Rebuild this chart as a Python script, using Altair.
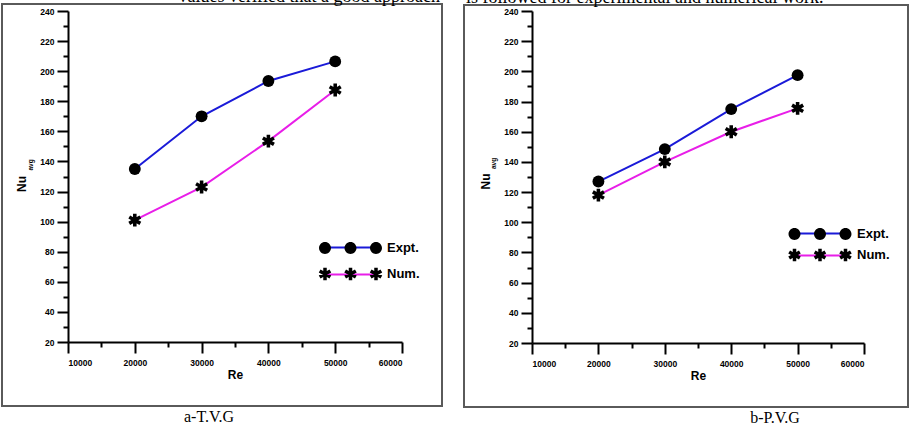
import math
import altair as alt
import pandas as pd

# ---------------- data ----------------
re_values = [20000, 30000, 40000, 50000]
tvg_expt = [135, 170, 193.5, 206.5]
tvg_num = [101, 123, 153.5, 187.5]
pvg_expt = [127, 148.5, 175, 197.5]
pvg_num = [118, 140, 160, 175.5]
series_names = ["Expt.", "Num."]
y_major = list(range(20, 241, 20))
y_minor = list(range(30, 231, 20))
x_major = list(range(10000, 60001, 10000))
x_minor = list(range(15000, 55001, 10000))
captions = ["a-T.V.G", "b-P.V.G"]
y_title = ["Nu", "avg"]
x_title = "Re"
top_line = ["values verified that a good approach",
            "is followed for experimental and numerical work."]

SANS = "Liberation Sans"
SERIF = "Liberation Serif"
BLUE = "#1a1ad8"
MAGENTA = "#e81ee8"


def f(v):
    return f"{v:.3f}"


def circle_path(cx, cy, r):
    k = 0.5523 * r
    return (
        f"M{f(cx - r)},{f(cy)}"
        f"C{f(cx - r)},{f(cy - k)} {f(cx - k)},{f(cy - r)} {f(cx)},{f(cy - r)}"
        f"C{f(cx + k)},{f(cy - r)} {f(cx + r)},{f(cy - k)} {f(cx + r)},{f(cy)}"
        f"C{f(cx + r)},{f(cy + k)} {f(cx + k)},{f(cy + r)} {f(cx)},{f(cy + r)}"
        f"C{f(cx - k)},{f(cy + r)} {f(cx - r)},{f(cy + k)} {f(cx - r)},{f(cy)}Z"
    )


def star_path(cx, cy, r, w):
    parts = []
    for ang in (90, 30, 150):
        a = math.radians(ang)
        dx, dy = math.cos(a), -math.sin(a)
        px, py = -dy, dx
        pts = [
            (cx + r * dx + w * px, cy + r * dy + w * py),
            (cx - r * dx + w * px, cy - r * dy + w * py),
            (cx - r * dx - w * px, cy - r * dy - w * py),
            (cx + r * dx - w * px, cy + r * dy - w * py),
        ]
        parts.append("M" + "L".join(f"{f(x)},{f(y)}" for x, y in pts) + "Z")
    return "".join(parts)


STAR = star_path(0, 0, 1.08, 0.3)
LEG_UNIT = 6.5          # sqrt(169)/2
LEG_SIZE = 169
SP = 25.5 / LEG_UNIT
TRIPLE_CIRCLES = "".join(circle_path(c, 0, 0.92) for c in (-SP, 0, SP))
TRIPLE_STARS = "".join(star_path(c, 0, 0.95, 0.27) for c in (-SP, 0, SP))
LINE_SYM = f"M{f(-SP)},0L{f(SP)},0"

AX = dict(
    domainColor="black", domainWidth=2, tickColor="black", tickWidth=2, grid=False,
    labelFont=SANS, labelFontWeight="bold", labelFontSize=8.5, labelColor="black",
)


def value_chart():
    return alt.Chart(alt.Data(values=[{}]))


def panel(expt, num, caption, top_text, c):
    n = len(re_values)
    df = pd.DataFrame({
        "Re": re_values + re_values,
        "Nu": expt + num,
        "series": [series_names[0]] * n + [series_names[1]] * n,
    })
    xs = alt.Scale(domain=[10000, 60000], nice=False, zero=False)
    ys = alt.Scale(domain=[20, 240], nice=False, zero=False)

    x_major_axis = alt.Axis(orient="bottom", values=x_major, format="d", title=x_title,
                            tickSize=11, labelPadding=5, titlePadding=3, titleFont=SANS,
                            titleFontSize=12, titleFontWeight="bold", titleColor="black", **AX)
    y_major_axis = alt.Axis(orient="left", values=y_major, title=None, tickSize=11,
                            labelPadding=3, **AX)
    x_minor_axis = alt.Axis(orient="bottom", values=x_minor, labels=False, domain=False,
                            title=None, tickSize=5, tickWidth=2, tickColor="black", grid=False)
    y_minor_axis = alt.Axis(orient="left", values=y_minor, labels=False, domain=False,
                            title=None, tickSize=5, tickWidth=2, tickColor="black", grid=False)

    leg = dict(orient="none", legendX=c["lx"], direction="vertical",
               title=None, padding=0, rowPadding=c["rp"],
               symbolSize=LEG_SIZE, labelFont=SANS, labelFontSize=13,
               labelFontWeight="bold", labelColor="black")

    base = alt.Chart(df)
    frame = value_chart().mark_rect(fillOpacity=0, stroke="#5a5a5a", strokeWidth=2).encode(
        x=alt.value(c["fx1"]), x2=alt.value(c["fx2"]), y=alt.value(c["fy1"]), y2=alt.value(c["fy2"]))

    lines = base.mark_line(strokeWidth=2).encode(
        x=alt.X("Re:Q", scale=xs, axis=x_major_axis),
        y=alt.Y("Nu:Q", scale=ys, axis=y_major_axis),
        color=alt.Color("series:N", scale=alt.Scale(domain=series_names, range=[BLUE, MAGENTA]),
                        legend=alt.Legend(symbolType=LINE_SYM, symbolStrokeWidth=2,
                                          legendY=c["ly"] + c["lline"],
                                          labelExpr="' '", labelOffset=c["lo"] - 9,
                                          **leg)),
    )
    points = base.mark_point(filled=True, opacity=1, size=141, color="black").encode(
        x=alt.X("Re:Q", scale=xs, axis=x_minor_axis),
        y=alt.Y("Nu:Q", scale=ys, axis=y_minor_axis),
        shape=alt.Shape("series:N", scale=alt.Scale(domain=series_names, range=["circle", STAR]),
                        legend=None),
    )
    legend_layer = base.transform_filter("datum.Re < 0").mark_point(
        filled=True, opacity=1, color="black").encode(
        x=alt.X("Re:Q", scale=xs, axis=None),
        y=alt.Y("Nu:Q", scale=ys, axis=None),
        shape=alt.Shape("series:N",
                        scale=alt.Scale(domain=series_names, range=[TRIPLE_CIRCLES, TRIPLE_STARS]),
                        legend=alt.Legend(symbolFillColor="black", symbolStrokeWidth=0,
                                          symbolOpacity=1, legendY=c["ly"],
                                          labelOffset=c["lo"], **leg)),
    )
    nu = value_chart().mark_text(angle=270, align="center", baseline="alphabetic", font=SANS,
                                 fontSize=12, fontWeight="bold", color="black").encode(
        x=alt.value(c["nux"]), y=alt.value(c["nuy"]), text=alt.value(y_title[0]))
    avg = value_chart().mark_text(angle=270, align="center", baseline="alphabetic", font=SANS,
                                  fontSize=6.5, fontWeight="bold", color="black").encode(
        x=alt.value(c["avx"]), y=alt.value(c["avy"]), text=alt.value(y_title[1]))
    cap = value_chart().mark_text(align="center", baseline="alphabetic", font=SERIF,
                                  fontSize=16, color="black").encode(
        x=alt.value(c["cx"]), y=alt.value(c["cy"]), text=alt.value(caption))
    top = value_chart().mark_text(align=c["talign"], baseline="alphabetic", font=SERIF,
                                  fontSize=18, color="black").encode(
        x=alt.value(c["tx"]), y=alt.value(c["ty"]), text=alt.value(top_text))

    return (
        alt.layer(frame, lines, points, legend_layer, nu, avg, cap, top)
        .resolve_scale(shape="independent")
        .resolve_axis(x="independent", y="independent")
        .properties(width=c["w"], height=c["h"])
    )


cfg_left = dict(w=334, h=331, fx1=-66, fx2=374, fy1=-7, fy2=395,
                lx=276, ly=230.5, lline=-1.5, rp=12, lo=30,
                nux=-42, nuy=173, avx=-35, avy=154, cx=141, cy=411,
                talign="right", tx=372, ty=-9)
cfg_right = dict(w=332, h=332, fx1=-68, fx2=376, fy1=-6, fy2=396,
                 lx=281.5, ly=216.5, lline=-1.5, rp=7, lo=30.5,
                 nux=-42.5, nuy=170.5, avx=-36, avy=152.5, cx=243, cy=412,
                 talign="left", tx=-66, ty=-8)

left = panel(tvg_expt, tvg_num, captions[0], top_line[0], cfg_left)
right = panel(pvg_expt, pvg_num, captions[1], top_line[1], cfg_right)

chart = (
    alt.hconcat(left, right, spacing=20)
    .resolve_scale(color="independent", shape="independent")
    .properties(padding={"left": 1, "top": -12, "right": 0, "bottom": 0})
    .configure_view(strokeWidth=0)
)

chart.save("out.html", embed_options={"renderer": "svg", "actions": False})
